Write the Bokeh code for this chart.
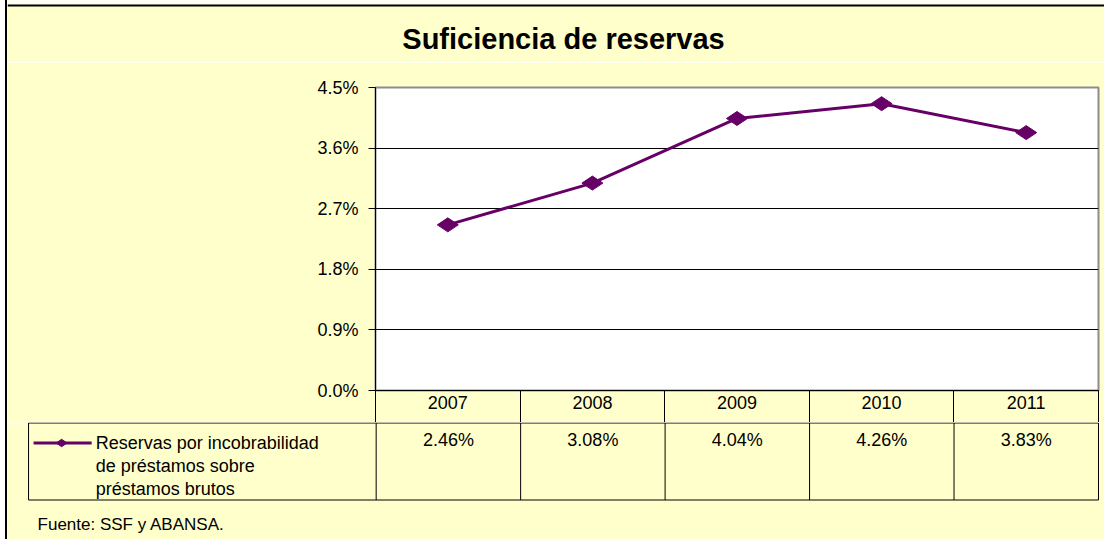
import math
from bokeh.plotting import figure
from bokeh.models import Range1d, FixedTicker, PrintfTickFormatter
from bokeh.embed import file_html
from bokeh.resources import INLINE
from bokeh.core.properties import value

# ---------------- data ----------------
title_text = "Suficiencia de reservas"
years = ["2007", "2008", "2009", "2010", "2011"]
reserve_pct = [2.46, 3.08, 4.04, 4.26, 3.83]
y_ticks = [0.0, 0.9, 1.8, 2.7, 3.6, 4.5]
series_name_lines = ["Reservas por incobrabilidad", "de préstamos sobre", "préstamos brutos"]
source_note = "Fuente: SSF y ABANSA."

# ---------------- style / layout (screen pixels) ----------------
FONT = "Liberation Sans"
YELLOW = "#FFFFCC"
PURPLE = "#660066"

MX, MY, BW = 5, 4, 2        # outer margin and chart border width
OX = MX + BW                # first content pixel column
RIGHT = 1104
CONT_W = RIGHT - OX         # content width
OUT_W = CONT_W + BW         # element width (border-box)
TITLE_B = 62                # bottom of title strip
TOP_H = 422                 # bottom of chart part (plot area + header row)
TAB_H = 117                 # data row + legend cell + source note
FL, FT, FR, FB = 375, 87, 1096, 390   # plot-area edges
HDR = TOP_H - FB            # header row height
N = len(years)
CW = (FR - FL) / N          # px per category

x_pos = [i + 0.5 for i in range(N)]        # category centres on the numeric scale


def strip(height, x_range, y_range):
    f = figure(width=OUT_W, height=height, x_range=x_range, y_range=y_range,
               output_backend="svg", toolbar_location=None,
               min_border_left=0, min_border_right=0, min_border_top=0, min_border_bottom=0)
    f.styles = {"margin-left": f"{MX}px", "border-left": f"{BW}px solid black"}
    f.axis.visible = False
    f.grid.visible = False
    f.outline_line_color = None
    f.background_fill_color = YELLOW
    f.border_fill_color = YELLOW
    return f


# ---------------- title strip ----------------
h = strip(TITLE_B, Range1d(OX, OX + CONT_W), Range1d(TITLE_B, 0))
h.quad(left=[OX], right=[OX + CONT_W], top=[0], bottom=[MY], fill_color="white", line_color=None)
h.segment(x0=[OX], y0=[MY + BW / 2], x1=[OX + CONT_W], y1=[MY + BW / 2],
          line_color="black", line_width=BW)
h.text(x=[562], y=[38], text=[title_text], text_font=value(FONT), text_font_size="29px",
       text_font_style="bold", text_color="black", text_align="center",
       text_baseline="middle")

# ---------------- chart ----------------
p = figure(width=OUT_W, height=TOP_H - TITLE_B, x_range=Range1d(0, N),
           y_range=Range1d(y_ticks[0], y_ticks[-1]),
           output_backend="svg", toolbar_location=None,
           min_border_left=FL - OX, min_border_right=RIGHT - FR,
           min_border_top=FT - TITLE_B, min_border_bottom=HDR)
p.styles = {"margin-left": f"{MX}px", "border-left": f"{BW}px solid black"}
p.border_fill_color = YELLOW
p.background_fill_color = "white"
p.outline_line_color = "#8c8c8c"
p.outline_line_width = 2

# y axis
p.yaxis.ticker = FixedTicker(ticks=y_ticks)
p.yaxis.formatter = PrintfTickFormatter(format="%.1f%%")
p.yaxis.major_label_text_font = FONT
p.yaxis.major_label_text_font_size = "18px"
p.yaxis.major_label_text_color = "black"
p.yaxis.axis_line_color = "black"
p.yaxis.major_tick_line_color = "black"
p.yaxis.major_tick_out = 7
p.yaxis.major_tick_in = 0
p.yaxis.minor_tick_line_color = None
p.yaxis.major_label_standoff = 10

# x axis = header row of the data table (labels at centres, cell borders as minor ticks)
p.xaxis.ticker = FixedTicker(ticks=x_pos, minor_ticks=list(range(N + 1)))
p.xaxis.major_label_overrides = {x: y for x, y in zip(x_pos, years)}
p.xaxis.major_label_text_font = FONT
p.xaxis.major_label_text_font_size = "18px"
p.xaxis.major_label_text_color = "black"
p.xaxis.axis_line_color = "black"
p.xaxis.major_tick_line_color = None
p.xaxis.major_tick_out = 0
p.xaxis.major_tick_in = 0
p.xaxis.minor_tick_line_color = "black"
p.xaxis.minor_tick_in = 0
p.xaxis.minor_tick_out = HDR
p.xaxis.major_label_standoff = -(HDR - 5)

p.xgrid.visible = False
p.ygrid.ticker = FixedTicker(ticks=y_ticks[1:-1])
p.ygrid.grid_line_color = "black"
p.ygrid.grid_line_width = 1

p.line(x_pos, reserve_pct, line_color=PURPLE, line_width=3)
p.scatter(x_pos, reserve_pct, marker="diamond", size=21, angle=math.pi / 2,
          fill_color=PURPLE, line_color=PURPLE)


# ---------------- data row of the table ----------------
def px(xpix):
    """screen pixel column -> category scale"""
    return (xpix - FL) / CW


t = strip(TAB_H, Range1d(px(OX), px(OX + CONT_W)), Range1d(TAB_H - 0.5, -0.5))

ROW = 77
LEG_L = 28
# cell borders
t.segment(x0=list(range(N + 1)), y0=[0] * (N + 1), x1=list(range(N + 1)), y1=[ROW] * (N + 1),
          line_color="black", line_width=1)
t.segment(x0=[px(LEG_L), px(LEG_L), px(LEG_L)], y0=[0, ROW, 0],
          x1=[N, N, px(LEG_L)], y1=[0, ROW, ROW], line_color="black", line_width=1)

# values
t.text(x=x_pos, y=[17] * N, text=[f"{v:.2f}%" for v in reserve_pct],
       text_font=value(FONT), text_font_size="18px", text_color="black",
       text_align="center", text_baseline="middle")

# legend key
t.line([px(33), px(91)], [20, 20], line_color=PURPLE, line_width=3)
t.scatter([px(61)], [20], marker="diamond", size=11, angle=math.pi / 2,
          fill_color=PURPLE, line_color=PURPLE)
t.text(x=[px(95)] * 3, y=[20, 43, 66], text=series_name_lines,
       text_font=value(FONT), text_font_size="18px", text_color="black",
       text_align="left", text_baseline="middle")

# source
t.text(x=[px(37)], y=[101], text=[source_note],
       text_font=value(FONT), text_font_size="17px", text_color="black",
       text_align="left", text_baseline="middle")

open("out.html", "w").write(file_html([h, p, t], INLINE))
